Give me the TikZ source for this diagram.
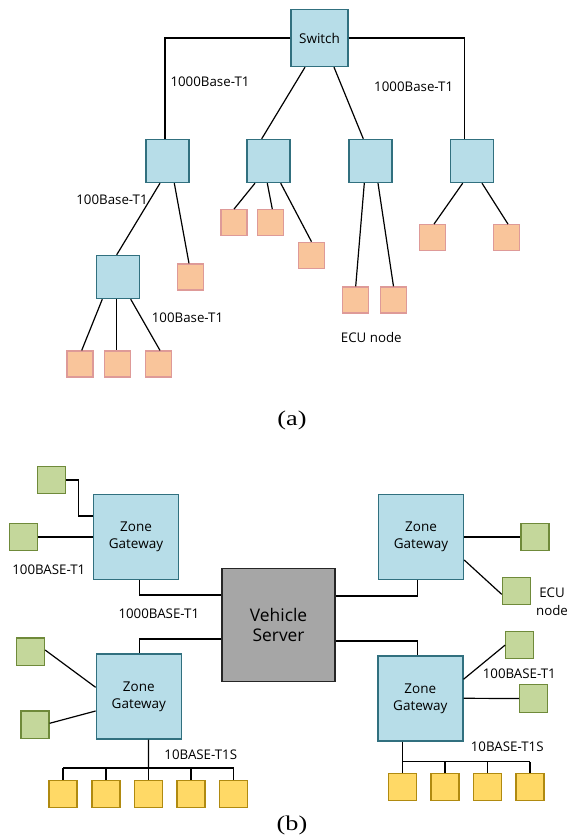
\documentclass[tikz,border=0pt]{standalone}
\usepackage{fontspec}
\setmainfont{Open Sans}
\newfontfamily\capfont{Liberation Serif}
\usetikzlibrary{calc}
\definecolor{swfill}{HTML}{B7DDE8}
\definecolor{swline}{HTML}{31707F}
\definecolor{pchfill}{HTML}{F9C59B}
\definecolor{pchline}{HTML}{DE9A98}
\definecolor{grnfill}{HTML}{C4D79B}
\definecolor{grnline}{HTML}{6F8A3A}
\definecolor{ylwfill}{HTML}{FFD966}
\definecolor{ylwline}{HTML}{B08A10}
\definecolor{srvfill}{HTML}{A6A6A6}
\definecolor{srvline}{HTML}{262626}
\tikzset{
  swbox/.style={draw=swline, fill=swfill, line width=1.4pt, minimum width=43pt, minimum height=43pt, inner sep=0pt},
  bigsw/.style={swbox, minimum width=57pt, minimum height=57pt},
  gwbox/.style={swbox, minimum width=85pt, minimum height=85pt, align=center, font=\fontsize{13.5}{17}\selectfont},
  pbox/.style={draw=pchline, fill=pchfill, line width=1.2pt, minimum width=26pt, minimum height=26pt, inner sep=0pt},
  gbox/.style={draw=grnline, fill=grnfill, line width=1.2pt, minimum width=28pt, minimum height=27.5pt, inner sep=0pt},
  ybox/.style={draw=ylwline, fill=ylwfill, line width=1.2pt, minimum width=28pt, minimum height=27.5pt, inner sep=0pt},
  srvbox/.style={draw=srvline, fill=srvfill, line width=1.4pt, minimum width=113pt, minimum height=113pt, align=center, font=\fontsize{17.4}{20}\selectfont},
  lbl/.style={font=\fontsize{13.3}{16}\selectfont, inner sep=0pt, text=black},
  conn/.style={line width=1.2pt, black},
  capt/.style={font=\capfont\fontsize{21}{24}\selectfont, inner sep=0pt}
}
\begin{document}
\begin{tikzpicture}[x=1pt,y=-1pt]
\useasboundingbox (0,0) rectangle (567,838);
% ---------------- (a) ----------------
\node[bigsw, font=\fontsize{13.5}{16}\selectfont] (sw) at (319.5,38) {Switch};
\node[swbox] (b1) at (167.3,161) {};
\node[swbox] (b2) at (268.5,161) {};
\node[swbox] (b3) at (370.3,161) {};
\node[swbox] (b4) at (471.8,161) {};
\node[swbox] (b5) at (118,277) {};
\node[pbox] (e1) at (190.5,277) {};
\node[pbox] (e2) at (80,364) {};
\node[pbox] (e3) at (117.7,364) {};
\node[pbox] (e4) at (158.3,364) {};
\node[pbox] (e5) at (234,222.7) {};
\node[pbox] (e6) at (270.8,222.7) {};
\node[pbox] (e7) at (311.5,255.3) {};
\node[pbox] (e8) at (355.7,300) {};
\node[pbox] (e9) at (393.5,300) {};
\node[pbox] (e10) at (432.3,237.7) {};
\node[pbox] (e11) at (506.7,237.7) {};

\draw[conn] (sw.west) -| ($(b1.north)+(-2.3,0)$);
\draw[conn] (sw.east) -| ($(b4.north)+(-7.5,0)$);
\draw[conn] ($(sw.south)+(-14.5,0)$) -- ($(b2.north)+(-6.8,0)$);
\draw[conn] ($(sw.south)+(14.5,0)$) -- ($(b3.north)+(-7,0)$);
\draw[conn] ($(b1.south)+(-7.3,0)$) -- ($(b5.north)+(-1.3,0)$);
\draw[conn] ($(b1.south)+(7,0)$) -- ($(e1.north)+(-1.5,0)$);
\draw[conn] ($(b5.south)+(-15.7,0)$) -- ($(e2.north)+(1.7,0)$);
\draw[conn] ($(b5.south)+(-1.3,0)$) -- ($(e3.north)+(-1,0)$);
\draw[conn] ($(b5.south)+(12.7,0)$) -- ($(e4.north)+(1.7,0)$);
\draw[conn] ($(b2.south)+(-13.5,0)$) -- (e5.north);
\draw[conn] ($(b2.south)+(-1.2,0)$) -- ($(e6.north)+(1.5,0)$);
\draw[conn] ($(b2.south)+(12.2,0)$) -- (e7.north);
\draw[conn] ($(b3.south)+(-6,0)$) -- (e8.north);
\draw[conn] ($(b3.south)+(7.7,0)$) -- (e9.north);
\draw[conn] ($(b4.south)+(-9.1,0)$) -- ($(e10.north)+(1.7,0)$);
\draw[conn] ($(b4.south)+(10.2,0)$) -- ($(e11.north)+(1.3,0)$);

\node[lbl] (la1) at (210,81.7) {1000Base-T1};
\node[lbl] (la2) at (413.7,86.7) {1000Base-T1};
\node[lbl] (la3) at (112,200) {100Base-T1};
\node[lbl] (la4) at (187.5,317.7) {100Base-T1};
\node[lbl] (la5) at (371.3,337.3) {ECU node};
\node[capt] (capa) at (292,420.5) {\scalebox{1.25}[1]{(a)}};

% ---------------- (b) ----------------
\node[srvbox] (srv) at (278.6,624.8) {Vehicle\\Server};
\node[gwbox] (g1) at (136,537) {Zone\\Gateway};
\node[gwbox] (g2) at (421,537) {Zone\\Gateway};
\node[gwbox] (g3) at (138.8,696.3) {Zone\\Gateway};
\node[gwbox] (g4) at (420.3,698.3) {Zone\\Gateway};

\node[gbox] (n1) at (51.2,480) {};
\node[gbox] (n2) at (23.3,537) {};
\node[gbox] (n3) at (535,537) {};
\node[gbox] (n4) at (516.3,591) {};
\node[gbox] (n5) at (30.5,651.8) {};
\node[gbox] (n6) at (35,724.7) {};
\node[gbox] (n7) at (519.8,645) {};
\node[gbox] (n8) at (533.8,698.5) {};

\node[ybox] (y1) at (63,794) {};
\node[ybox] (y2) at (106,794) {};
\node[ybox] (y3) at (148.4,794) {};
\node[ybox] (y4) at (191,794) {};
\node[ybox] (y5) at (233.7,794) {};
\node[ybox] (y6) at (402.3,787) {};
\node[ybox] (y7) at (445,787) {};
\node[ybox] (y8) at (487.3,787) {};
\node[ybox] (y9) at (530,787) {};

% server links
\draw[conn] ($(g1.south)+(3.3,0)$) |- ($(srv.west)+(0,-29.8)$);
\draw[conn] ($(srv.west)+(0,14.2)$) -| ($(g3.north)+(0.5,0)$);
\draw[conn] ($(g2.south)+(-3.3,0)$) |- ($(srv.east)+(0,-28.8)$);
\draw[conn] ($(srv.east)+(0,16.2)$) -| ($(g4.north)+(-2.6,0)$);
% g1 links
\draw[conn] (n1.east) -| ($(g1.west)+(-14,-21)$) -- ($(g1.west)+(0,-21)$);
\draw[conn] (n2.east) -- (g1.west);
% g2 links
\draw[conn] (g2.east) -- (n3.west);
\draw[conn] ($(g2.east)+(0,23)$) -- ($(n4.west)+(0,3.3)$);
% g3 links
\draw[conn] ($(n5.east)+(0,-1.8)$) -- ($(g3.west)+(0,-9)$);
\draw[conn] ($(n6.east)+(0,-1.4)$) -- ($(g3.west)+(0,14.7)$);
% g4 links
\draw[conn] ($(g4.east)+(0,-19)$) -- (n7.west);
\draw[conn] (g4.east) -- (n8.west);
% bus g3
\draw[conn] ($(g3.south)+(9.6,0)$) -- ($(y3.north)+(0,-11.7)$);
\draw[conn] ($(y1.north)+(0,-11.7)$) -- ($(y5.north)+(0,-11.7)$);
\foreach \k in {y1,y2,y3,y4,y5} \draw[conn] (\k.north) -- ++(0,-11.7);
% bus g4
\draw[conn] ($(g4.south)+(-18,0)$) -- ($(y6.north)+(0,-11)$);
\draw[conn] ($(y6.north)+(0,-11)$) -- ($(y9.north)+(0,-11)$);
\foreach \k in {y6,y7,y8,y9} \draw[conn] (\k.north) -- ++(0,-11);

\node[lbl] (lb1) at (48.8,569.3) {100BASE-T1};
\node[lbl] (lb2) at (158.8,614) {1000BASE-T1};
\node[lbl, align=center, font=\fontsize{13.3}{18}\selectfont] (lb3) at (552,602) {ECU\\node};
\node[lbl] (lb4) at (519.3,674) {100BASE-T1};
\node[lbl] (lb5) at (200.8,755) {10BASE-T1S};
\node[lbl] (lb6) at (507.2,746.7) {10BASE-T1S};
\node[capt] (capb) at (292,825) {\scalebox{1.25}[1]{(b)}};
\end{tikzpicture}
\end{document}
